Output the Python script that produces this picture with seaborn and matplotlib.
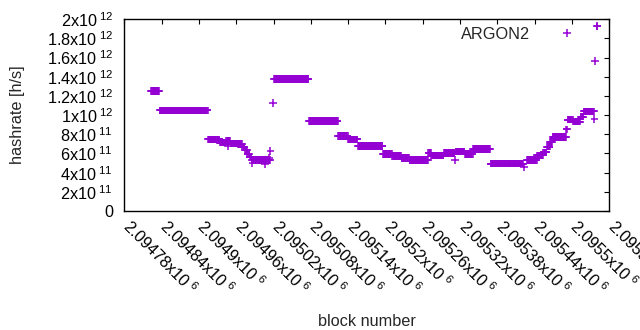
import numpy as np
import pandas as pd
import matplotlib
matplotlib.use("Agg")
import matplotlib.pyplot as plt
import matplotlib.transforms as mtrans
import seaborn as sns

# runs of (nearly) constant hashrate, one point per block: first block, last block, value
run_first = [2094823, 2094837, 2094915, 2094934, 2094944, 2094951, 2094963, 2094970,
             2094974, 2094978, 2094982, 2094985, 2095021, 2095077, 2095124, 2095140,
             2095156, 2095196, 2095211, 2095226, 2095239, 2095269, 2095274, 2095294,
             2095313, 2095328, 2095341, 2095369, 2095428, 2095444, 2095454, 2095460,
             2095465, 2095469, 2095491, 2095493, 2095502, 2095514, 2095519]
run_last = [2094836, 2094914, 2094933, 2094943, 2094950, 2094962, 2094969, 2094973,
            2094977, 2094981, 2094984, 2095014, 2095076, 2095123, 2095139, 2095155,
            2095195, 2095210, 2095225, 2095238, 2095268, 2095273, 2095293, 2095311,
            2095327, 2095340, 2095368, 2095421, 2095443, 2095453, 2095459, 2095464,
            2095468, 2095490, 2095492, 2095501, 2095513, 2095518, 2095535]
run_hashrate = [1.249e12, 1.050e12, 0.748e12, 0.713e12, 0.730e12, 0.706e12, 0.699e12, 0.671e12,
                0.636e12, 0.595e12, 0.560e12, 0.532e12, 1.380e12, 0.942e12, 0.782e12, 0.748e12,
                0.681e12, 0.595e12, 0.574e12, 0.553e12, 0.532e12, 0.608e12, 0.577e12, 0.602e12,
                0.619e12, 0.595e12, 0.644e12, 0.494e12, 0.535e12, 0.581e12, 0.612e12, 0.671e12,
                0.723e12, 0.775e12, 0.852e12, 0.953e12, 0.932e12, 0.984e12, 1.040e12]

# single blocks that stand out from their run
extra_block = [2094947, 2094986, 2095006, 2095013, 2095015, 2095019, 2095312, 2095423,
               2095536, 2095537, 2095540, 2095541]
extra_hashrate = [0.678e12, 0.500e12, 0.490e12, 0.550e12, 0.623e12, 1.124e12, 0.530e12, 0.460e12,
                  0.963e12, 1.562e12, 1.930e12, 1.925e12]

x_ticks = list(range(2094780, 2095561, 60))
y_ticks = [0, 2e11, 4e11, 6e11, 8e11, 1e12, 1.2e12, 1.4e12, 1.6e12, 1.8e12, 2e12]


def sci_label(v):
    if v == 0:
        return "0"
    e = int(np.floor(np.log10(v)))
    m = v / 10 ** e
    return f"{m:.6g}x10$^{{\\ {e}}}$"


def build_frame():
    blocks, rates = [], []
    for a, b, h in zip(run_first, run_last, run_hashrate):
        n = b - a + 1
        blocks.extend(range(a, b + 1))
        rates.extend([h] * n)
    blocks.extend(extra_block)
    rates.extend(extra_hashrate)
    return pd.DataFrame({"block": blocks, "hashrate": rates, "algo": "ARGON2"})


def main():
    sns.set_style("white")
    plt.rcParams["font.family"] = ["Liberation Sans", "DejaVu Sans"]
    plt.rcParams["mathtext.fontset"] = "custom"
    plt.rcParams["mathtext.rm"] = "Liberation Sans"
    plt.rcParams["mathtext.it"] = "Liberation Sans:italic"
    fs = 11.7

    data = build_frame()

    fig = plt.figure(figsize=(6.4, 3.3), dpi=100)
    ax = fig.add_axes([124.3 / 640, 119 / 330, 485 / 640, 191.7 / 330])

    sns.scatterplot(data=data, x="block", y="hashrate", hue="algo",
                    palette=["#9400d3"], marker="+", s=30, linewidth=1.1, ax=ax)

    ax.set_xlim(2094780, 2095560)
    ax.set_ylim(0, 2e12)
    ax.set_xticks(x_ticks)
    ax.set_xticklabels([sci_label(v) for v in x_ticks], rotation=-45,
                       ha="left", va="top", rotation_mode="anchor", fontsize=fs)
    ax.set_yticks(y_ticks)
    ax.set_yticklabels([sci_label(v) for v in y_ticks], fontsize=fs)
    ax.tick_params(direction="in", length=3.5, width=0.8, top=True, right=True,
                   colors="black", pad=8)
    ax.tick_params(axis="x", pad=4)
    shift = mtrans.ScaledTranslation(0.08, 0.0, fig.dpi_scale_trans)
    for lab in ax.get_xticklabels():
        lab.set_transform(lab.get_transform() + shift)
    for s in ax.spines.values():
        s.set_visible(True)
        s.set_color("black")
        s.set_linewidth(1.0)

    ax.set_xlabel("block number", fontsize=fs)
    ax.set_ylabel("hashrate [h/s]", fontsize=fs)
    ax.xaxis.set_label_coords(0.5, -0.535)
    ax.yaxis.set_label_coords(-0.205, 0.5)

    handles, labels = ax.get_legend_handles_labels()
    ax.legend(handles, labels, loc="upper right", bbox_to_anchor=(0.9705, 0.962),
              frameon=False, markerfirst=False, handlelength=3.4, handletextpad=0.6,
              borderpad=0, borderaxespad=0, fontsize=fs)

    fig.savefig("out.png", dpi=100)


if __name__ == "__main__":
    main()
